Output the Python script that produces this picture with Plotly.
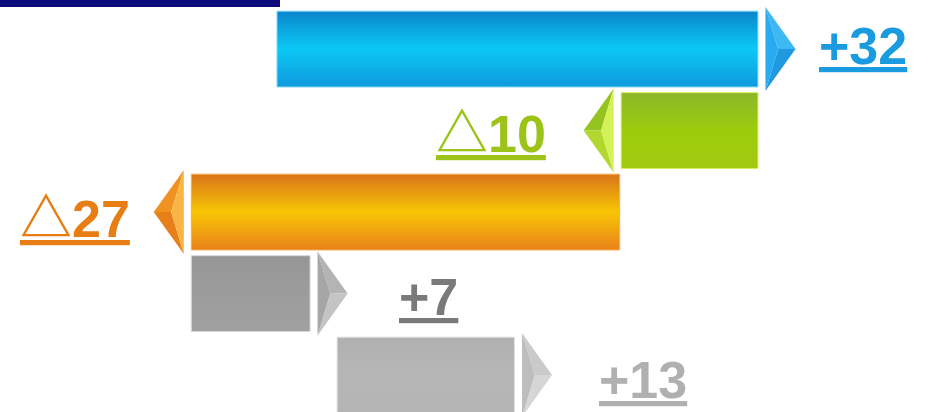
import plotly.graph_objects as go

# ---- data ----
rows = [0, 1, 2, 3, 4]
labels = ["+32", "△10", "△27", "+7", "+13"]
bar_start = [0.0, 32.0, 22.8, -5.7, 4.0]
bar_end = [32.0, 22.9, -5.7, 2.2, 15.8]

# ---- styles ----  (colorscale position 0 = bottom edge, 1 = top edge)
bar_grad = [
    [[0, "#0f9ade"], [0.5, "#0cc8f5"], [1, "#0a86cc"]],
    [[0, "#a2ca10"], [0.5, "#9ccc0c"], [1, "#8cb62a"]],
    [[0, "#e8801a"], [0.5, "#f8c606"], [1, "#d8741a"]],
    [[0, "#a0a0a0"], [0.5, "#9c9c9c"], [1, "#969696"]],
    [[0, "#b4b4b4"], [0.5, "#b6b6b6"], [1, "#b0b0b0"]],
]
edge_col = ["#7fd6f8", "#d4f060", "#f5b050", "#d8d8d8", "#e0e0e0"]
arrow_up = ["#3cb8f2", "#96c41e", "#f09222", "#b4b4b4", "#cacaca"]
arrow_lo = ["#1f9ae0", "#b2d830", "#e8801a", "#c4c4c4", "#d6d6d6"]
arrow_in = ["#2aaaf0", "#d4f256", "#f8b444", "#a6a6a6", "#bdbdbd"]
label_col = ["#1a9be0", "#9cc31a", "#e87d14", "#7a7a7a", "#b0b0b0"]
label_gap = [1.4, 2.4, 1.45, 3.3, 3.0]
label_yshift = [3, -3, -7, -3, -5]

half_h = 0.465
arrow_gap = 0.5
arrow_w = 2.0
arrow_half = 0.515
FONT = "Liberation Sans, Arial, Noto Sans CJK SC, sans-serif"

fig = go.Figure()
annotations = []


def poly(xs, ys, color):
    fig.add_trace(go.Scatter(
        x=xs, y=ys, mode="lines", fill="toself", fillcolor=color,
        line=dict(width=0, color=color),
        hoverinfo="skip", showlegend=False,
    ))


for i, r in enumerate(rows):
    s, e = bar_start[i], bar_end[i]
    lo, hi = min(s, e), max(s, e)
    d = 1 if e >= s else -1
    # bar body
    fig.add_trace(go.Scatter(
        x=[lo, hi, hi, lo, lo],
        y=[r - half_h, r - half_h, r + half_h, r + half_h, r - half_h],
        mode="lines", fill="toself",
        line=dict(color=edge_col[i], width=1),
        fillgradient=dict(type="vertical", colorscale=bar_grad[i]),
        hoverinfo="skip", showlegend=False,
    ))
    # arrow head (three facets)
    base = e + d * arrow_gap
    tip = base + d * arrow_w
    inner = base + d * arrow_w * 0.42
    top, bot = r - arrow_half, r + arrow_half
    poly([base, tip, inner, base], [top, r, r, top], arrow_up[i])
    poly([inner, tip, base, inner], [r, r, bot, r], arrow_lo[i])
    poly([base, inner, base, base], [top, r, bot, top], arrow_in[i])
    # label
    annotations.append(dict(
        x=tip + d * label_gap[i], y=r, xref="x", yref="y",
        text=labels[i], showarrow=False,
        xanchor="left" if d > 0 else "right", yanchor="middle",
        yshift=label_yshift[i],
        font=dict(family=FONT, size=52, color=label_col[i],
                  weight="bold", lineposition="under"),
    ))

fig.update_layout(
    width=935, height=412,
    margin=dict(l=0, r=0, t=0, b=0),
    paper_bgcolor="white", plot_bgcolor="white",
    xaxis=dict(range=[-18.43, 43.78], visible=False, fixedrange=True),
    yaxis=dict(range=[4.453, -0.602], visible=False, fixedrange=True),
    annotations=annotations,
    shapes=[dict(type="rect", xref="paper", yref="paper",
                 x0=0, x1=280 / 935, y0=1 - 7 / 412, y1=1,
                 fillcolor="#0b0b7c", line=dict(width=0), layer="above")],
)

fig.write_html("out.html", config={"displayModeBar": False},
               post_script="document.body.style.margin='0';")
